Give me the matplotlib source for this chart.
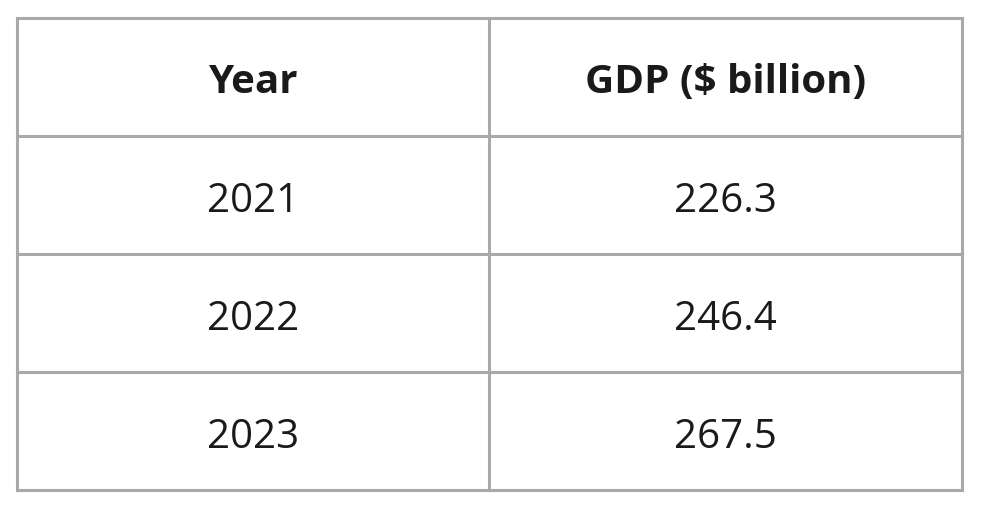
import matplotlib
matplotlib.use("Agg")
import matplotlib.pyplot as plt

headers = ["Year", "GDP ($ billion)"]
years = ["2021", "2022", "2023"]
gdp = ["226.3", "246.4", "267.5"]

W, H = 982, 509
fig = plt.figure(figsize=(W/100, H/100), dpi=100)
ax = fig.add_axes([0, 0, 1, 1])
ax.set_xlim(0, W); ax.set_ylim(H, 0); ax.axis("off")

left, right, mid = 17, 962, 489
rows = [18, 136, 254, 372, 490]
lc = "#a9a9a9"; lw = 2.2
for y in rows:
    ax.plot([left, right], [y, y], color=lc, lw=lw, solid_capstyle="projecting")
for x in [left, mid, right]:
    ax.plot([x, x], [rows[0], rows[-1]], color=lc, lw=lw, solid_capstyle="projecting")

cx = [(left+mid)/2, (mid+right)/2]
font = ["Open Sans", "DejaVu Sans"]
dy = 5
for i, h in enumerate(headers):
    ax.text(cx[i], (rows[0]+rows[1])/2 + dy, h, ha="center", va="center", fontsize=29,
            fontweight="bold", color="#1a1a1a", family=font)
for r, (y, g) in enumerate(zip(years, gdp)):
    yc = (rows[r+1]+rows[r+2])/2 + dy + 2
    ax.text(cx[0], yc, y, ha="center", va="center", fontsize=29, color="#1a1a1a", family=font)
    ax.text(cx[1], yc, g, ha="center", va="center", fontsize=29, color="#1a1a1a", family=font)

fig.savefig("out.png", dpi=100, facecolor="white")
